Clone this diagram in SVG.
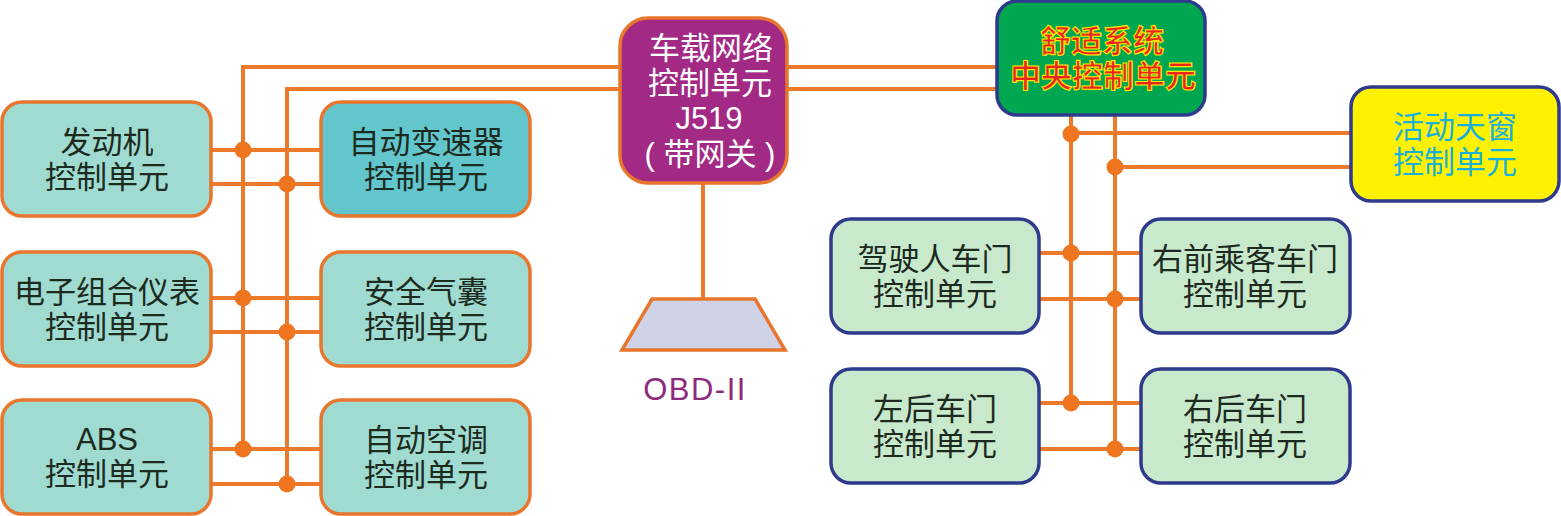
<svg xmlns="http://www.w3.org/2000/svg" width="1561" height="516" viewBox="0 0 1561 516">
<style>
text{font-family:"Liberation Sans","Noto Sans CJK SC",sans-serif;font-size:31px;text-anchor:middle;fill:#1c2a20}
.w{stroke:#ec7a2a;stroke-width:4;fill:none}
.d{fill:#ef761f}
.o{stroke:#e8762c;stroke-width:3.5}
.b{stroke:#2e3a8c;stroke-width:3.5}
.t{fill:#9fdbd0}
.g{fill:#c9e9cd}
.wt{fill:#fff}
.cy{fill:#1ab0d8}
.hot{fill:#e8261c;stroke:#ffe600;stroke-width:1.1;font-weight:700}
.obd{fill:#8e2a7c;font-size:31px;letter-spacing:1.5px}
</style>
<rect width="1561" height="516" fill="#fff"/>
<g id="connectors" class="w">
<path d="M243 448V67H620M287 484V89H620M788 67H997M788 89H997M703 184V299"/>
<path d="M211 150H321M211 184H321M211 298H321M211 332H321M211 449H321M211 484H321"/>
<path d="M1071 116V403M1115 116V449M1071 133H1351M1115 167H1351"/>
<path d="M1039 253H1141M1039 299H1141M1039 403H1141M1039 449H1141"/>
<g class="d" stroke="none">
<circle cx="243" cy="150" r="8.5"/><circle cx="287" cy="184" r="8.5"/><circle cx="243" cy="298" r="8.5"/><circle cx="287" cy="332" r="8.5"/><circle cx="243" cy="449" r="8.5"/><circle cx="287" cy="484" r="8.5"/>
<circle cx="1071" cy="134" r="8.5"/><circle cx="1115" cy="167" r="8.5"/><circle cx="1071" cy="253" r="8.5"/><circle cx="1115" cy="299" r="8.5"/><circle cx="1071" cy="403" r="8.5"/><circle cx="1115" cy="449" r="8.5"/>
</g>
</g>
<g id="engine"><rect x="2" y="102" width="209" height="114" rx="20" class="o t"/><text x="107" y="153">发动机<tspan x="107" dy="35">控制单元</tspan></text></g>
<g id="gearbox"><rect x="321" y="102" width="209" height="114" rx="20" class="o" fill="#62c6cc"/><text x="426" y="153">自动变速器<tspan x="426" dy="35">控制单元</tspan></text></g>
<g id="cluster"><rect x="2" y="252" width="209" height="114" rx="20" class="o t"/><text x="107" y="303">电子组合仪表<tspan x="107" dy="35">控制单元</tspan></text></g>
<g id="airbag"><rect x="321" y="252" width="209" height="114" rx="20" class="o t"/><text x="426" y="303">安全气囊<tspan x="426" dy="35">控制单元</tspan></text></g>
<g id="abs"><rect x="2" y="400" width="209" height="114" rx="20" class="o t"/><text x="107" y="450">ABS<tspan x="107" dy="35">控制单元</tspan></text></g>
<g id="ac"><rect x="321" y="400" width="209" height="114" rx="20" class="o t"/><text x="426" y="451">自动空调<tspan x="426" dy="35">控制单元</tspan></text></g>
<g id="j519"><rect x="620" y="18" width="167" height="165" rx="28" class="o" fill="#a32a84"/>
<text class="wt" x="711" y="59">车载网络<tspan x="710" dy="35">控制单元</tspan><tspan x="709" dy="35">J519</tspan><tspan x="710" dy="36">( 带网关 )</tspan></text></g>
<g id="obd"><path d="M652 299H755L785 350H622Z" class="o" fill="#d0d2e8"/><text class="obd" x="695" y="400">OBD-II</text></g>
<g id="comfort"><rect x="997" y="1" width="208" height="114" rx="20" class="b" fill="#00a650"/>
<text class="hot" x="1102" y="52">舒适系统<tspan x="1103" dy="35">中央控制单元</tspan></text></g>
<g id="sunroof"><rect x="1351" y="87" width="208" height="114" rx="20" class="b" fill="#fff200"/><text class="cy" x="1455" y="138">活动天窗<tspan x="1455" dy="35">控制单元</tspan></text></g>
<g id="driver"><rect x="831" y="219" width="208" height="114" rx="20" class="b g"/><text x="935" y="270">驾驶人车门<tspan x="935" dy="35">控制单元</tspan></text></g>
<g id="passenger"><rect x="1141" y="219" width="209" height="114" rx="20" class="b g"/><text x="1245" y="270">右前乘客车门<tspan x="1245" dy="35">控制单元</tspan></text></g>
<g id="rearleft"><rect x="831" y="369" width="208" height="114" rx="20" class="b g"/><text x="935" y="420">左后车门<tspan x="935" dy="35">控制单元</tspan></text></g>
<g id="rearright"><rect x="1141" y="369" width="209" height="114" rx="20" class="b g"/><text x="1245" y="420">右后车门<tspan x="1245" dy="35">控制单元</tspan></text></g>
</svg>
